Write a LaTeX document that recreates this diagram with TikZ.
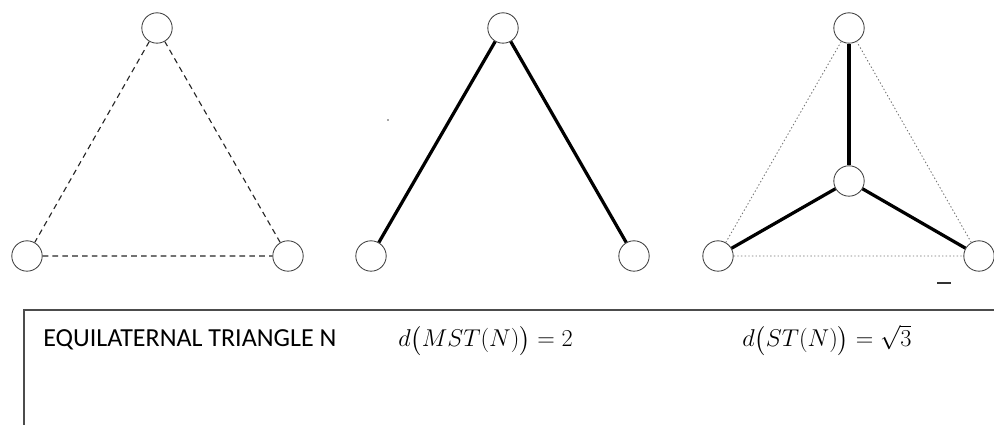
\documentclass[tikz,border=0pt]{standalone}
\usepackage{xcolor}
\usepackage{amsmath}
\usepackage{fontspec}
\newfontfamily\labelfont{Carlito}
\usetikzlibrary{positioning, calc}

\begin{document}
\begin{tikzpicture}[x=0.025cm, y=-0.025cm,
    vertex/.style={circle, draw=black!75, line width=0.6pt, minimum size=0.76cm, inner sep=0pt, fill=white},
    dashededge/.style={draw=black!85, line width=0.8pt, dash pattern=on 4pt off 3pt},
    dottededge/.style={draw=black!55, line width=0.6pt, dash pattern=on 1pt off 1.6pt},
    treeedge/.style={draw=black, line width=2.3pt},
    caption/.style={anchor=base west, inner sep=0pt, font=\fontsize{18}{21}\selectfont}]
    \useasboundingbox (0,0) rectangle (994,425);
    % equilateral triangle N
    \node[vertex] (a1) at (157,28) {};
    \node[vertex] (b1) at (27,256) {};
    \node[vertex] (c1) at (288,256) {};
    \draw[dashededge] (a1) -- (b1) -- (c1) -- (a1);
    % minimum spanning tree
    \node[vertex] (a2) at (503,28) {};
    \node[vertex] (b2) at (371,256) {};
    \node[vertex] (c2) at (634,256) {};
    \draw[treeedge] (b2) -- (a2) -- (c2);
    \fill[black!70] (388,120) circle (0.7pt);
    % steiner tree
    \node[vertex] (a3) at (849,28) {};
    \node[vertex] (b3) at (718,256) {};
    \node[vertex] (c3) at (979,256) {};
    \node[vertex] (s3) at (849,181) {};
    \draw[dottededge] (a3) -- (b3) -- (c3) -- (a3);
    \draw[treeedge] (s3) -- (a3);
    \draw[treeedge] (s3) -- (b3);
    \draw[treeedge] (s3) -- (c3);
    \draw[black!80, line width=0.9pt] (937,283) -- (951,283);
    % caption box
    \coordinate (boxbl) at (24,425);
    \coordinate (boxtl) at (24,310);
    \coordinate (boxtr) at (994,310);
    \draw[black!70, line width=1.1pt] (boxbl) -- (boxtl) -- (boxtr);
    \node[caption, font=\labelfont\fontsize{18.5}{20}\selectfont] (tri) at (43,347) {EQUILATERNAL TRIANGLE N};
    \node[caption] (mst) at (398,347) {$d\bigl(MST(N)\bigr) = 2$};
    \node[caption] (st) at (742,347) {$d\bigl(ST(N)\bigr) = \sqrt{3}$};
\end{tikzpicture}
\end{document}
